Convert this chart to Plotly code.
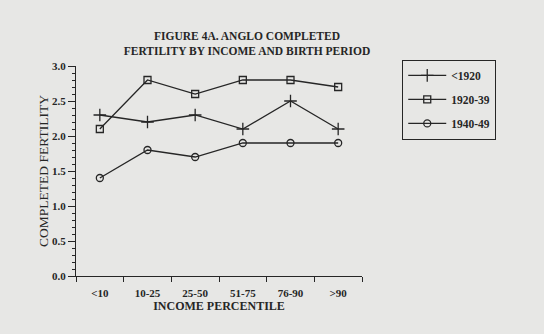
import plotly.graph_objects as go

categories = ["<10", "10-25", "25-50", "51-75", "76-90", ">90"]
series_names = ["<1920", "1920-39", "1940-49"]
s_pre1920 = [2.3, 2.2, 2.3, 2.1, 2.5, 2.1]
s_1920_39 = [2.1, 2.8, 2.6, 2.8, 2.8, 2.7]
s_1940_49 = [1.4, 1.8, 1.7, 1.9, 1.9, 1.9]
y_ticks = [0.0, 0.5, 1.0, 1.5, 2.0, 2.5, 3.0]

xs = list(range(len(categories)))
ink = "#262626"
font_family = "Liberation Serif"

fig = go.Figure()
symbols = ["cross-thin-open", "square-open", "circle-open"]
sizes = [9, 7, 7]
for i, (name, vals) in enumerate(zip(series_names, [s_pre1920, s_1920_39, s_1940_49])):
    fig.add_trace(go.Scatter(
        x=xs, y=vals, name=f"<b>{name.replace('<', '&lt;')}</b>", mode="lines+markers",
        line=dict(color=ink, width=1.3),
        marker=dict(symbol=symbols[i], size=sizes[i], color=ink,
                    line=dict(color=ink, width=1.3)),
        legendgroup=name,
    ))

fig.update_layout(
    width=544, height=334,
    margin=dict(l=76, r=182, t=66, b=58),
    paper_bgcolor="#e7e7e5", plot_bgcolor="#e7e7e5",
    font=dict(family=font_family, color=ink, size=10),
    showlegend=True,
    legend=dict(
        x=1.14, y=1.03, xanchor="left", yanchor="top",
        bordercolor=ink, borderwidth=1.2, bgcolor="rgba(0,0,0,0)",
        font=dict(family=font_family, size=11.5, color=ink),
        traceorder="grouped", tracegroupgap=5, itemwidth=38,
    ),
    title=dict(
        text="<b>FIGURE 4A. ANGLO COMPLETED<br>FERTILITY BY INCOME AND BIRTH PERIOD</b>",
        x=247 / 544, xanchor="center", y=1 - 40 / 334, yanchor="top",
        font=dict(family=font_family, size=11.5, color=ink),
    ),
)

fig.update_xaxes(
    range=[-0.5, 5.5], tickvals=xs,
    ticktext=[f"<b>{c.replace('<', '&lt;').replace('>', '&gt;')}</b>" for c in categories],
    ticks="", showgrid=False, zeroline=False,
    showline=True, linecolor=ink, linewidth=1.3,
    tickfont=dict(family=font_family, size=11, color=ink),
    ticklabelstandoff=7,
    minor=dict(tick0=0.5, dtick=1, ticks="outside", ticklen=5,
               tickcolor=ink, tickwidth=1.2, showgrid=False),
    title=dict(text="<b>INCOME PERCENTILE</b>", standoff=0,
               font=dict(family=font_family, size=12, color=ink)),
)
fig.update_yaxes(
    range=[0, 3.0], tickvals=y_ticks,
    ticktext=[f"<b>{v:.1f}</b>" for v in y_ticks],
    ticks="outside", ticklen=7, tickwidth=1.3, tickcolor=ink,
    showgrid=False, zeroline=False,
    showline=True, linecolor=ink, linewidth=1.3,
    tickfont=dict(family=font_family, size=11, color=ink),
    minor=dict(dtick=0.1, ticks="outside", ticklen=3,
               tickcolor=ink, tickwidth=1, showgrid=False),
    title=dict(text="COMPLETED FERTILITY", standoff=0,
               font=dict(family=font_family, size=13.5, color=ink)),
)

fig.write_html("out.html")
